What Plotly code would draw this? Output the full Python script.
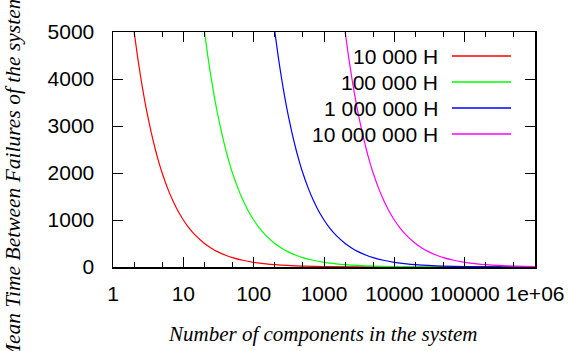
import plotly.graph_objects as go

# Series data: number of components vs system MTBF (hours)
red_n = [2, 2.25, 2.5, 2.75, 3, 3.5, 4, 4.5, 5, 6, 7, 8, 9, 10, 12, 15, 20, 25, 30, 40, 50, 70,
         100, 150, 200, 300, 500, 1000, 10000, 100000, 1000000]
red_y = [5000, 4444, 4000, 3636, 3333, 2857, 2500, 2222, 2000, 1667, 1429, 1250, 1111, 1000, 833,
         667, 500, 400, 333, 250, 200, 143, 100, 67, 50, 33, 20, 10, 1, 0.1, 0.01]

green_n = [20, 22.5, 25, 27.5, 30, 35, 40, 45, 50, 60, 70, 80, 90, 100, 120, 150, 200, 250, 300,
           400, 500, 700, 1000, 1500, 2000, 3000, 5000, 10000, 100000, 1000000]
green_y = [5000, 4444, 4000, 3636, 3333, 2857, 2500, 2222, 2000, 1667, 1429, 1250, 1111, 1000, 833,
           667, 500, 400, 333, 250, 200, 143, 100, 67, 50, 33, 20, 10, 1, 0.1]

blue_n = [200, 225, 250, 275, 300, 350, 400, 450, 500, 600, 700, 800, 900, 1000, 1200, 1500, 2000,
          2500, 3000, 4000, 5000, 7000, 10000, 15000, 20000, 30000, 50000, 100000, 1000000]
blue_y = [5000, 4444, 4000, 3636, 3333, 2857, 2500, 2222, 2000, 1667, 1429, 1250, 1111, 1000, 833,
          667, 500, 400, 333, 250, 200, 143, 100, 67, 50, 33, 20, 10, 1]

magenta_n = [2000, 2250, 2500, 2750, 3000, 3500, 4000, 4500, 5000, 6000, 7000, 8000, 9000, 10000,
             12000, 15000, 20000, 25000, 30000, 40000, 50000, 70000, 100000, 150000, 200000, 300000,
             500000, 1000000]
magenta_y = [5000, 4444, 4000, 3636, 3333, 2857, 2500, 2222, 2000, 1667, 1429, 1250, 1111, 1000, 833,
             667, 500, 400, 333, 250, 200, 143, 100, 67, 50, 33, 20, 10]

series_names = ["10 000 H", "100 000 H", "1 000 000 H", "10 000 000 H"]
series_colors = ["#ff0000", "#00ff00", "#0000ff", "#ff00ff"]

x_tickvals = [1, 10, 100, 1000, 10000, 100000, 1000000]
x_ticktext = ["1", "10", "100", "1000", "10000", "100000", "1e+06"]
y_tickvals = [0, 1000, 2000, 3000, 4000, 5000]

W, H = 568, 351
# plot area in screen pixels: x 113..535, y 32..267
L, R, T, B = 113, 568 - 535, 32, 351 - 267

fig = go.Figure()
for xs, ys, name, col in zip([red_n, green_n, blue_n, magenta_n], [red_y, green_y, blue_y, magenta_y],
                             series_names, series_colors):
    fig.add_trace(go.Scatter(x=xs, y=ys, mode="lines", name=name,
                             line=dict(color=col, width=1.2, shape="spline", smoothing=0.6),
                             showlegend=False, cliponaxis=True, hoverinfo="skip"))

SANS = "Liberation Sans, Arial, Helvetica, sans-serif"
tickfont = dict(family=SANS, size=21, color="black")
fig.update_xaxes(type="log", range=[0, 6], tickvals=x_tickvals, ticktext=x_ticktext,
                 ticks="inside", ticklen=10, tickwidth=1, tickcolor="black",
                 minor=dict(ticks="inside", ticklen=5, tickcolor="black", tickwidth=1, dtick="D2", showgrid=False),
                 showline=True, linecolor="black", linewidth=1.5, mirror="ticks",
                 showgrid=False, zeroline=False, tickfont=tickfont, ticklabelstandoff=7)
fig.update_yaxes(range=[0, 5000], tickvals=y_tickvals, ticks="inside", ticklen=10, tickwidth=1,
                 tickcolor="black", showline=True, linecolor="black", linewidth=1.5, mirror="ticks",
                 showgrid=False, zeroline=False, tickfont=tickfont, ticklabelstandoff=13)

pw, ph = 535 - 113, 267 - 32
def px(xs):
    return (xs - 113) / pw
def py(ys):
    return (267 - ys) / ph

# Legend (text right-aligned, sample line on the right, as in the reference)
row_y = [56, 82, 108, 134]
for name, col, yy in zip(series_names, series_colors, row_y):
    fig.add_annotation(x=px(440), y=py(yy), xref="paper", yref="paper", text=name, showarrow=False,
                       xanchor="right", yanchor="middle", font=dict(family=SANS, size=21, color="black"))
    fig.add_shape(type="line", xref="paper", yref="paper", x0=px(452), x1=px(511), y0=py(yy), y1=py(yy),
                  line=dict(color=col, width=1.5))

titlefont = dict(family="Liberation Serif", size=21, color="black")
fig.add_annotation(x=px(323), y=py(334), xref="paper", yref="paper", text="<i>Number of components in the system</i>",
                   showarrow=False, xanchor="center", yanchor="middle", font=titlefont)
fig.add_annotation(x=px(13), y=py(179), xref="paper", yref="paper", text="<i>Mean Time Between Failures of the system</i>",
                   showarrow=False, textangle=-90, xanchor="center", yanchor="middle",
                   font=dict(family="Liberation Serif", size=21.5, color="black"))

fig.update_layout(width=W, height=H, margin=dict(l=L, r=R, t=T, b=B, autoexpand=False),
                  paper_bgcolor="white", plot_bgcolor="white", showlegend=False, hovermode=False)

fig.write_html("out.html", config={"displayModeBar": False, "staticPlot": True},
               post_script="document.body.style.margin='0';document.body.style.overflow='hidden';")
